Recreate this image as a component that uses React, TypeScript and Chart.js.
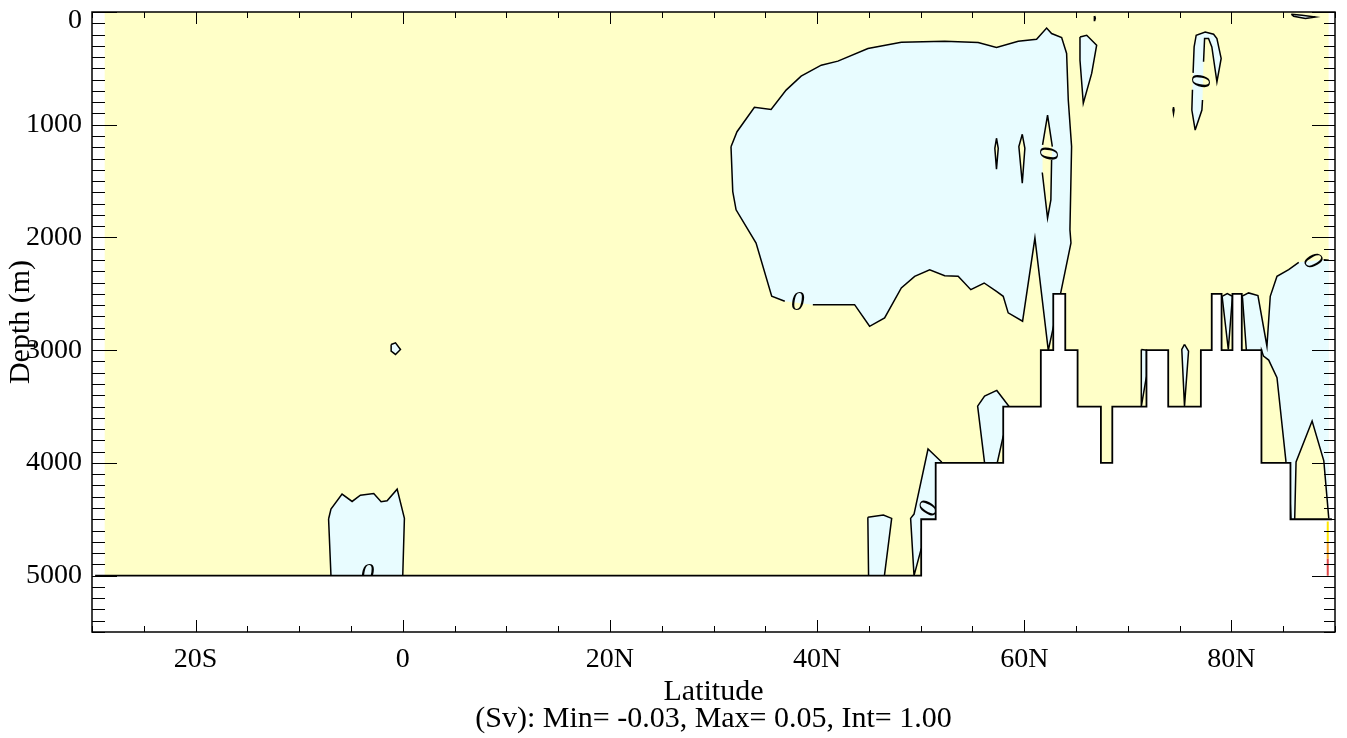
import React, { useEffect, useRef } from 'react';
import { Chart, registerables } from 'chart.js';

Chart.register(...registerables);

type Pt = [number, number] | null;

// ---------- axes ----------
const latRange = [-30, 90];
const depthRange = [0, 5500];
const xMajorTicks = [-20, 0, 20, 40, 60, 80];
const xTickLabels = ['20S', '0', '20N', '40N', '60N', '80N'];
const yMajorTicks = [0, 1000, 2000, 3000, 4000, 5000];
const xMinorStep = 5;
const yMinorStep = 100;

const xTitle = 'Latitude';
const subTitle = '(Sv): Min= -0.03, Max= 0.05, Int= 1.00';
const yTitle = 'Depth (m)';

// ---------- data domain (positive field background) ----------
const domainLat = [-28.8, 89.4];
const domainDepth = [0, 5000];

// ---------- bathymetry (step starts) ----------
const bathyLat = [-29.7, 50.05, 51.45, 57.97, 61.6, 62.8, 63.96, 65.15, 67.4, 68.5, 71.8, 73.9, 77.05, 78.1, 79.05, 80.1, 81.0, 82.9, 85.7, 89.7];
const bathyDepth = [5000, 4500, 4000, 3500, 3000, 2500, 3000, 3500, 4000, 3500, 3000, 3500, 3000, 2500, 3000, 2500, 3000, 4000, 4500, 4500];

// ---------- negative (cyan) regions: [lat, depth], null = break in contour line ----------
const negBlob: Pt[] = [[31.69, 1195], [32.27, 1062], [33.95, 846], [35.56, 864], [37.01, 693], [38.46, 569], [40.4, 472], [42.01, 436], [44.91, 324], [48.13, 268], [52.32, 259], [55.55, 271], [57.32, 315], [59.42, 259], [61.19, 242], [62.16, 142], [62.64, 191], [63.61, 227], [64.09, 368], [64.25, 781], [64.57, 1194], [64.41, 1931], [64.51, 2049], [63.45, 2522], [62.32, 3002], [61.03, 2005], [59.84, 2743], [58.45, 2669], [57.97, 2522], [57.32, 2478], [56.13, 2404], [54.84, 2463], [53.62, 2345], [52.32, 2339], [50.87, 2286], [49.42, 2345], [48.13, 2448], [46.52, 2713], [45.07, 2788], [43.62, 2596], [39.59, 2596], null, [36.88, 2566], [35.62, 2522], [34.11, 2050], [32.18, 1755], [31.86, 1593], [31.69, 1195]];
const negEqDeep: Pt[] = [[-7.16, 4498], [-6.93, 4410], [-5.86, 4277], [-4.89, 4342], [-4.09, 4286], [-2.8, 4271], [-2.09, 4345], [-1.51, 4336], [-0.54, 4233], [0.16, 4492], [0.0, 5000], [-6.93, 5000], [-7.16, 4498]];
const negEqMid: Pt[] = [[-1.12, 2950], [-0.7, 2935], [-0.22, 2994], [-0.7, 3038], [-1.12, 3009], [-1.12, 2950]];
const neg45: Pt[] = [[44.9, 4483], [46.4, 4462], [47.2, 4492], [46.5, 5000], [44.97, 5000], [44.9, 4483]];
const neg50: Pt[] = [[49.36, 5000], [49.03, 4492], [49.36, 4454], [50.71, 3877], [52.0, 3990], [52.0, 4600], [50.05, 4763], [49.36, 5000]];
const neg57: Pt[] = [[56.17, 4000], [55.5, 3496], [56.17, 3407], [57.35, 3357], [58.5, 3496], [58.5, 3700], [57.97, 3761], [57.39, 4000], [56.17, 4000]];
const neg65: Pt[] = [[65.38, 221], [66.03, 206], [66.99, 295], [66.51, 545], [65.7, 810], [65.38, 427], [65.38, 221]];
const neg71: Pt[] = [[71.3, 2995], [71.8, 3000], [71.8, 3230], [71.3, 3500], [71.3, 2995]];
const neg75: Pt[] = [[75.47, 2949], [75.86, 3009], [75.47, 3496], [75.21, 2994], [75.47, 2949]];
const neg79: Pt[] = [[79.1, 2522], [79.6, 2498], [80.1, 2522], [79.7, 2994], [79.1, 2522]];
const negHorseshoe: Pt[] = [[76.5, 1047], [76.18, 870], [76.24, 690], null, [76.3, 540], [76.4, 310], [76.6, 206], [77.47, 177], [78.28, 197], [78.6, 235], [79.01, 412], [78.6, 619], [78.11, 310], [77.79, 235], [77.41, 235], [77.31, 442], null, [77.21, 781], [77.15, 870], [76.5, 1047]];
const negNorth: Pt[] = [[89.4, 2203], [88.9, 2197], null, [86.5, 2221], [85.53, 2286], [84.4, 2345], [83.75, 2522], [83.43, 2965], [82.56, 2516], [81.66, 2492], [81.0, 2522], [81.07, 2536], [81.45, 3009], [81.6, 3100], [82.85, 3100], [82.9, 3000], [83.1, 3053], [83.6, 3088], [84.4, 3244], [85.27, 3991], [85.6, 4200], [85.8, 4600], [86.11, 4496], [86.24, 3991], [87.79, 3628], [88.92, 3982], [89.4, 4492]];
const negTopNE: Pt[] = [[85.78, 20], [86.82, 29], [88.1, 44], [87.14, 58], [86.01, 38], [85.78, 20]];
const negDotA: Pt[] = [[66.8, 35], [66.86, 55], [66.8, 75], [66.74, 55], [66.8, 35]];
const negDotB: Pt[] = [[74.41, 845], [74.46, 870], [74.41, 900], [74.36, 870], [74.41, 845]];

// ---------- positive (yellow) slivers inside the negative cell ----------
const posA: Pt[] = [[57.32, 1120], [57.49, 1209], [57.32, 1394], [57.16, 1209], [57.32, 1120]];
const posB: Pt[] = [[59.81, 1085], [60.06, 1209], [59.81, 1518], [59.48, 1194], [59.81, 1085]];
const posC: Pt[] = [[62.25, 914], [62.71, 1194], null, [62.64, 1312], [62.57, 1666], [62.25, 1828], [61.74, 1424], null, [61.77, 1179], [62.25, 914]];

// ---------- contour labels ----------
const labelLat = [38.13, -3.4, 62.2, 76.89, 87.79, 50.54];
const labelDepth = [2578, 4990, 1252, 610, 2212, 4392];
const labelAngle = [0, 0, 90, 90, 50, 110];
const labelText = '0';

// ---------- extreme value streak at the northern edge ----------
const edgeLat = [89.3, 89.3, 89.3, 89.3];
const edgeDepth = [4520, 4700, 4850, 5000];
const edgeColors = ['#FFE600', '#F2A020', '#E04848'];

const negRegions = [negBlob, negEqDeep, negEqMid, neg45, neg50, neg57, neg65, neg71, neg75, neg79, negHorseshoe, negNorth, negTopNE, negDotA, negDotB];
const posRegions = [posA, posB, posC];

const YELLOW = '#FFFFC8';
const CYAN = '#E8FCFF';
const SERIF = '"Liberation Serif", "Times New Roman", serif';

const fillPts = (pts: Pt[]) => pts.filter((p) => p !== null).map((p: any) => ({ x: p[0], y: p[1] }));
const linePts = (pts: Pt[]) => pts.map((p) => (p ? { x: p[0], y: p[1] } : { x: null, y: null }));

const base = { showLine: true, pointRadius: 0, pointHoverRadius: 0, tension: 0 };

function buildDatasets() {
  const ds: any[] = [];
  ds.push({
    ...base,
    data: [{ x: domainLat[0], y: domainDepth[0] }, { x: domainLat[1], y: domainDepth[0] }],
    borderWidth: 0,
    borderColor: 'rgba(0,0,0,0)',
    backgroundColor: YELLOW,
    fill: { value: domainDepth[1] },
  });
  negRegions.forEach((r) =>
    ds.push({ ...base, data: fillPts(r), borderWidth: 0, borderColor: 'rgba(0,0,0,0)', backgroundColor: CYAN, fill: 'shape' })
  );
  posRegions.forEach((r) =>
    ds.push({ ...base, data: fillPts(r), borderWidth: 0, borderColor: 'rgba(0,0,0,0)', backgroundColor: YELLOW, fill: 'shape' })
  );
  [...negRegions, ...posRegions].forEach((r) =>
    ds.push({ ...base, data: linePts(r), borderWidth: 1.5, borderColor: '#000', fill: false, spanGaps: false })
  );
  const labelAfter = ds.length - 1;
  ds.push({
    ...base,
    data: bathyLat.map((x, i) => ({ x, y: bathyDepth[i] })),
    stepped: 'before',
    borderWidth: 1.8,
    borderColor: '#000',
    backgroundColor: '#FFFFFF',
    fill: { value: depthRange[1] },
  });
  ds.push({
    ...base,
    data: edgeLat.map((x, i) => ({ x, y: edgeDepth[i] })),
    borderWidth: 2,
    borderColor: edgeColors[0],
    fill: false,
    segment: { borderColor: (c: any) => edgeColors[c.p0DataIndex] },
  });
  const n = ds.length;
  ds.forEach((d, i) => (d.order = n - i));
  return { ds, labelAfter };
}

export default function App() {
  const ref = useRef<HTMLCanvasElement>(null);
  useEffect(() => {
    document.body.style.margin = '0';
    const { ds, labelAfter } = buildDatasets();

    const framePlugin = {
      id: 'frame',
      afterDatasetDraw(chart: any, args: any) {
        if (args.index !== labelAfter) return;
        const { ctx, chartArea } = chart;
        const xs = chart.scales.x;
        const ys = chart.scales.y;
        ctx.save();
        ctx.beginPath();
        ctx.rect(chartArea.left, chartArea.top, chartArea.right - chartArea.left, chartArea.bottom - chartArea.top);
        ctx.clip();
        ctx.fillStyle = '#000';
        ctx.font = `italic 27px ${SERIF}`;
        ctx.textAlign = 'center';
        ctx.textBaseline = 'middle';
        labelLat.forEach((lat, i) => {
          ctx.save();
          ctx.translate(xs.getPixelForValue(lat), ys.getPixelForValue(labelDepth[i]));
          ctx.rotate((labelAngle[i] * Math.PI) / 180);
          ctx.fillText(labelText, 0, 0);
          ctx.restore();
        });
        ctx.restore();
      },
      afterDraw(chart: any) {
        const { ctx, chartArea } = chart;
        const { left, right, top, bottom } = chartArea;
        const xs = chart.scales.x;
        const ys = chart.scales.y;
        ctx.save();
        ctx.strokeStyle = '#000';
        ctx.lineWidth = 1;
        ctx.beginPath();
        const nY = Math.round((depthRange[1] - depthRange[0]) / yMinorStep);
        for (let k = 0; k <= nY; k++) {
          const d = depthRange[0] + k * yMinorStep;
          const major = yMajorTicks.includes(d);
          const y = Math.round(ys.getPixelForValue(d)) + 0.5;
          ctx.moveTo(left, y);
          ctx.lineTo(left + (major ? 25 : 13), y);
          ctx.moveTo(right, y);
          ctx.lineTo(right - (major ? 23 : 11), y);
        }
        const nX = Math.round((latRange[1] - latRange[0]) / xMinorStep);
        for (let k = 0; k <= nX; k++) {
          const lat = latRange[0] + k * xMinorStep;
          const major = xMajorTicks.includes(lat);
          const x = Math.round(xs.getPixelForValue(lat)) + 0.5;
          ctx.moveTo(x, top);
          ctx.lineTo(x, top + (major ? 12 : 6));
          ctx.moveTo(x, bottom);
          ctx.lineTo(x, bottom - (major ? 12 : 6));
        }
        ctx.stroke();
        ctx.lineWidth = 1.5;
        ctx.strokeRect(left, top, right - left, bottom - top);
        ctx.restore();
      },
    };

    const chart = new Chart(ref.current as HTMLCanvasElement, {
      type: 'scatter',
      data: { datasets: ds },
      options: {
        animation: false,
        responsive: false,
        devicePixelRatio: 1,
        events: [],
        layout: { padding: { top: 12, right: 12, left: 0, bottom: 0 } },
        plugins: { legend: { display: false }, tooltip: { enabled: false } },
        scales: {
          x: {
            type: 'linear',
            position: 'bottom',
            min: latRange[0],
            max: latRange[1],
            grid: { display: false, drawTicks: false },
            border: { display: false },
            afterBuildTicks: (s: any) => {
              s.ticks = xMajorTicks.map((v) => ({ value: v }));
            },
            afterFit: (s: any) => {
              s.height = 106;
              s.paddingLeft = 0;
              s.paddingRight = 0;
            },
            ticks: {
              autoSkip: false,
              maxRotation: 0,
              minRotation: 0,
              padding: 14,
              color: '#000',
              font: { family: SERIF, size: 28, lineHeight: 1 },
              callback: (v: any) => {
                const i = xMajorTicks.indexOf(Number(v));
                return i >= 0 ? xTickLabels[i] : '';
              },
            },
            title: {
              display: true,
              text: [xTitle, subTitle],
              color: '#000',
              font: { family: SERIF, size: 30, lineHeight: 0.89 },
              padding: { top: 0, bottom: 6 },
            },
          },
          y: {
            type: 'linear',
            position: 'left',
            reverse: true,
            min: depthRange[0],
            max: depthRange[1],
            grid: { display: false, drawTicks: false },
            border: { display: false },
            afterBuildTicks: (s: any) => {
              s.ticks = yMajorTicks.map((v) => ({ value: v }));
            },
            afterFit: (s: any) => {
              s.width = 92;
              s.paddingTop = 0;
              s.paddingBottom = 0;
            },
            ticks: {
              autoSkip: false,
              padding: 10,
              color: '#000',
              font: { family: SERIF, size: 28, lineHeight: 0.6 },
              callback: (v: any) => (Number(v) === 0 ? ['', '0'] : String(v)),
            },
            title: {
              display: true,
              text: yTitle,
              color: '#000',
              font: { family: SERIF, size: 30, lineHeight: 0.89 },
              padding: { top: 8, bottom: 0 },
            },
          },
        },
      },
      plugins: [framePlugin],
    } as any);
    return () => chart.destroy();
  }, []);

  return (
    <div style={{ width: 1347, height: 738, background: '#fff' }}>
      <canvas ref={ref} width={1347} height={738} style={{ display: 'block' }} />
    </div>
  );
}
